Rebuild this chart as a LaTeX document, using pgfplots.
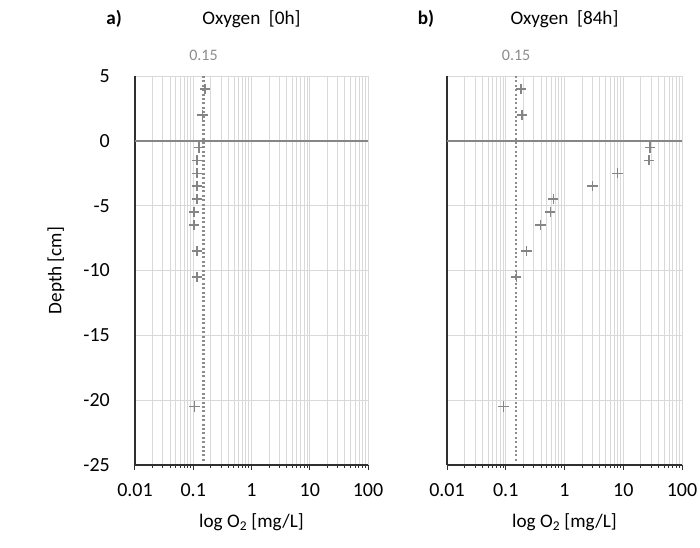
\documentclass[border=0pt]{standalone}
\usepackage{fontspec}
\setmainfont{Carlito}
\usepackage{pgfplots}
\pgfplotsset{compat=1.18}
\definecolor{gridgray}{HTML}{D9D9D9}
\definecolor{markgray}{HTML}{858585}
\definecolor{zerogray}{HTML}{868686}
\definecolor{dotgray}{HTML}{8C8C8C}
\definecolor{axisdark}{HTML}{303030}
\newcommand{\tickfont}{\fontsize{20}{24}\selectfont}
\newcommand{\bigfont}{\fontsize{19.2}{23}\selectfont}

\pgfplotstableread{
depth o2
4     0.159
2     0.145
-0.5  0.126
-1.5  0.115
-2.5  0.115
-3.5  0.115
-4.5  0.115
-5.5  0.104
-6.5  0.104
-8.5  0.115
-10.5 0.115
-20.5 0.105
}\oxyzero
\pgfplotstableread{
depth o2
4     0.180
2     0.189
-0.5  28.5
-1.5  27.4
-2.5  7.94
-3.5  2.98
-4.5  0.644
-5.5  0.573
-6.5  0.393
-8.5  0.224
-10.5 0.151
-20.5 0.091
}\oxyeightyfour

\begin{document}
\begin{tikzpicture}
\useasboundingbox (0,0) rectangle (700pt,-547pt);

\begin{axis}[at={(135pt,-465pt)}, anchor=south west,
  xmode=log, xmin=0.01, xmax=100, ymin=-25, ymax=5,
  scale only axis, width=233pt, height=389pt,
  axis lines*=left,
  axis line style={axisdark, line width=1.3pt},
  xtick={0.01,0.1,1,10,100},
  xticklabels={0.01,0.1,1,10,100},
  ytick={-25,-20,-15,-10,-5,0,5},
  yticklabels={-25,-20,-15,-10,-5,0,5},
  tick align=outside,
  major tick length=5pt, minor tick length=2.5pt,
  every tick/.style={axisdark, line width=1pt},
  ytick style={draw=none},
  xmajorgrids, xminorgrids, ymajorgrids,
  major grid style={gridgray, line width=0.9pt},
  minor grid style={gridgray, line width=0.9pt},
  tick label style={font=\tickfont, black},
  xticklabel style={anchor=base, yshift=-26.5pt},
  yticklabel style={anchor=east, inner sep=0pt, xshift=-20pt},
  xlabel={log O\textsubscript{2} [mg/L]},
  xlabel style={font=\bigfont, at={(axis description cs:0.5,0)}, anchor=base, yshift=-62pt},
  ylabel={Depth [cm]},
  ylabel style={font=\bigfont, at={(axis description cs:0,0.5)}, anchor=center, yshift=79pt},
  clip=false,
]
\addplot[zerogray, line width=1.4pt] coordinates {(0.01,0) (100,0)};
\addplot[dotgray, line width=2.2pt, dash pattern=on 2pt off 2.4pt] coordinates {(0.15,5) (0.15,-24.8)};
\addplot[only marks, mark=+, mark size=5.2pt, markgray, mark options={line width=1.5pt}] table[x=o2, y=depth] {\oxyzero};
\node[dotgray, font=\fontsize{16}{18}\selectfont, anchor=base, yshift=16pt] at (axis cs:0.15,5) {0.15};
\node[font=\bigfont, anchor=base, yshift=52pt] at (rel axis cs:0.5,1) {Oxygen\ \ [0h]};
\node[font=\bigfont\bfseries, anchor=base, yshift=52pt, xshift=-21pt] at (rel axis cs:0,1) {a)};
\end{axis}

\begin{axis}[at={(447pt,-465pt)}, anchor=south west,
  xmode=log, xmin=0.01, xmax=100, ymin=-25, ymax=5,
  scale only axis, width=235pt, height=389pt,
  axis lines*=left,
  axis line style={axisdark, line width=1.3pt},
  xtick={0.01,0.1,1,10,100},
  xticklabels={0.01,0.1,1,10,100},
  ytick={-25,-20,-15,-10,-5,0,5},
  yticklabels={},
  tick align=outside,
  major tick length=5pt, minor tick length=2.5pt,
  every tick/.style={axisdark, line width=1pt},
  ytick style={draw=none},
  xmajorgrids, xminorgrids, ymajorgrids,
  major grid style={gridgray, line width=0.9pt},
  minor grid style={gridgray, line width=0.9pt},
  tick label style={font=\tickfont, black},
  xticklabel style={anchor=base, yshift=-26.5pt},
  xlabel={log O\textsubscript{2} [mg/L]},
  xlabel style={font=\bigfont, at={(axis description cs:0.5,0)}, anchor=base, yshift=-62pt},
  clip=false,
]
\addplot[zerogray, line width=1.4pt] coordinates {(0.01,0) (100,0)};
\addplot[dotgray, line width=2.2pt, dash pattern=on 2pt off 2.4pt] coordinates {(0.15,5) (0.15,-24.8)};
\addplot[only marks, mark=+, mark size=5.2pt, markgray, mark options={line width=1.5pt}] table[x=o2, y=depth] {\oxyeightyfour};
\node[dotgray, font=\fontsize{16}{18}\selectfont, anchor=base, yshift=16pt] at (axis cs:0.15,5) {0.15};
\node[font=\bigfont, anchor=base, yshift=52pt] at (rel axis cs:0.5,1) {Oxygen\ \ [84h]};
\node[font=\bigfont\bfseries, anchor=base, yshift=52pt, xshift=-21pt] at (rel axis cs:0,1) {b)};
\end{axis}
\end{tikzpicture}
\end{document}
